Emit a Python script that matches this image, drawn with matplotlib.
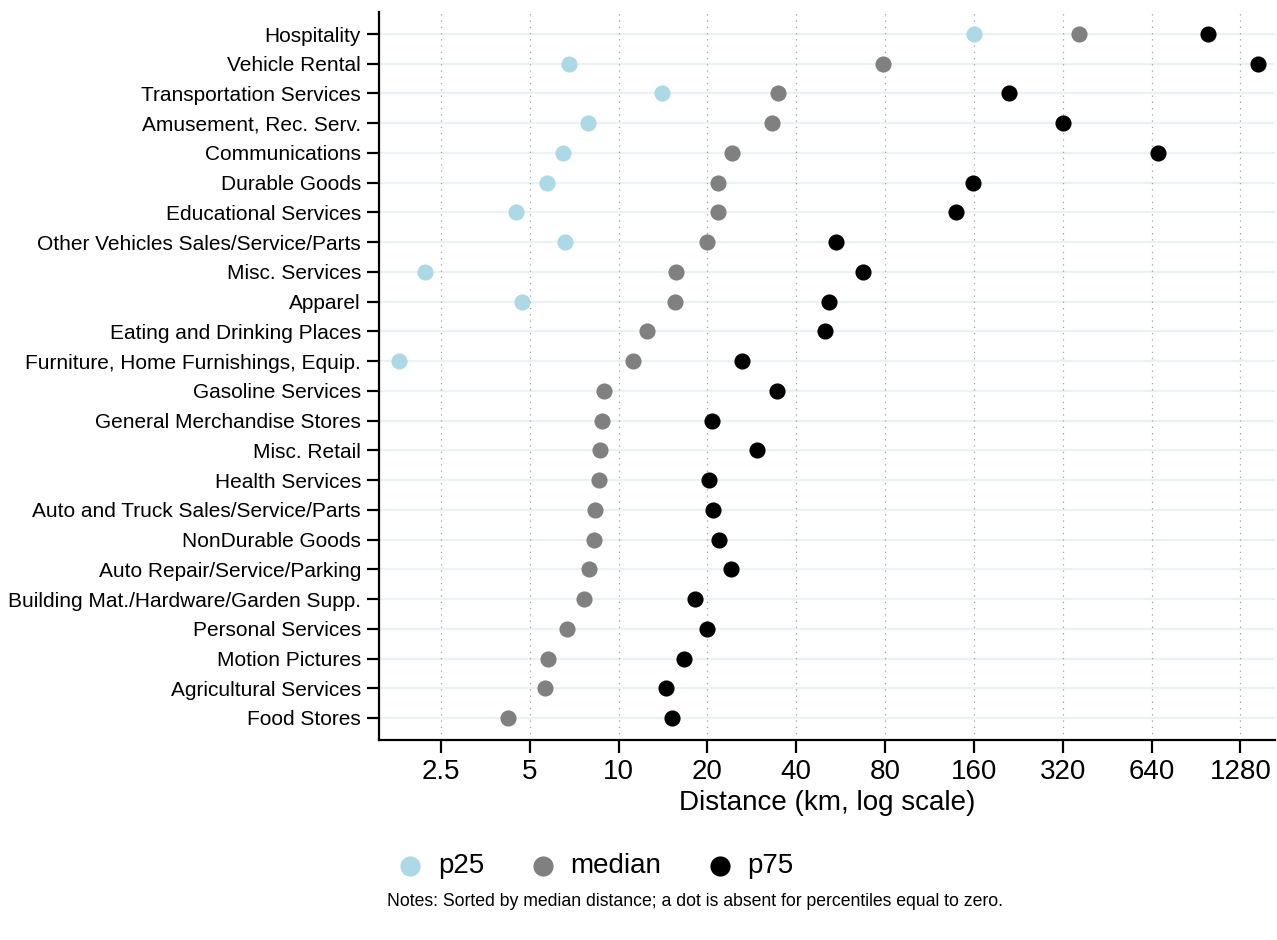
import numpy as np
import matplotlib.pyplot as plt
from matplotlib.ticker import FixedLocator, NullLocator

plt.rcParams['font.family'] = ['Liberation Sans', 'DejaVu Sans']

# industries, top to bottom
industries = [
    "Hospitality", "Vehicle Rental", "Transportation Services",
    "Amusement, Rec. Serv.", "Communications", "Durable Goods",
    "Educational Services", "Other Vehicles Sales/Service/Parts",
    "Misc. Services", "Apparel", "Eating and Drinking Places",
    "Furniture, Home Furnishings, Equip.", "Gasoline Services",
    "General Merchandise Stores", "Misc. Retail", "Health Services",
    "Auto and Truck Sales/Service/Parts", "NonDurable Goods",
    "Auto Repair/Service/Parking", "Building Mat./Hardware/Garden Supp.",
    "Personal Services", "Motion Pictures", "Agricultural Services",
    "Food Stores",
]

# distances in km (nan = percentile equal to zero, no dot)
p25 = [160, 6.8, 14.0, 7.9, 6.5, 5.7, 4.5, 6.6, 2.2, 4.7, np.nan, 1.8,
       np.nan, np.nan, np.nan, np.nan, np.nan, np.nan, np.nan, np.nan,
       np.nan, np.nan, np.nan, np.nan]
median = [363, 79, 34.6, 33.0, 24.2, 21.7, 21.7, 20.0, 15.7, 15.5, 12.5, 11.2,
          8.9, 8.76, 8.62, 8.56, 8.29, 8.23, 7.91, 7.61, 6.66, 5.74, 5.61, 4.2]
p75 = [993, 1467, 210, 320, 672, 159, 139, 54.4, 67.2, 51.5, 49.9, 26.1,
       34.3, 20.7, 29.4, 20.2, 20.8, 21.8, 24.0, 18.1, 19.9, 16.6, 14.5, 15.2]

xticks = [2.5, 5, 10, 20, 40, 80, 160, 320, 640, 1280]
xtick_labels = ["2.5", "5", "10", "20", "40", "80", "160", "320", "640", "1280"]

fig = plt.figure(figsize=(12.77, 9.4), dpi=100)
ax = fig.add_axes([379/1277, 1 - 740/940, (1275 - 379)/1277, (740 - 12)/940])

y = np.arange(len(industries))

# horizontal light lines + vertical dotted grid
for yy in y:
    ax.axhline(yy, color='#eaf2f3', lw=1.6, zorder=0)
for xt in xticks:
    ax.axvline(xt, color='#a0a0a0', lw=0.9, ls=(0, (1, 4)), zorder=0)

s = 135
ax.scatter(p25, y, s=s, color='#add8e6', label='p25', zorder=3, linewidths=0)
ax.scatter(median, y, s=s, color='#808080', label='median', zorder=3, linewidths=0)
ax.scatter(p75, y, s=s, color='black', label='p75', zorder=3, linewidths=0)

ax.set_xscale('log')
ax.set_xlim(1.54, 1678)
ax.set_ylim(len(industries) - 1 + 0.74, -0.74)
ax.xaxis.set_major_locator(FixedLocator(xticks))
ax.xaxis.set_minor_locator(NullLocator())
ax.set_xticklabels(xtick_labels, fontsize=20)
ax.set_yticks(y)
ax.set_yticklabels(industries, fontsize=15)

ax.spines['top'].set_visible(False)
ax.spines['right'].set_visible(False)
ax.spines['left'].set_linewidth(1.6)
ax.spines['bottom'].set_linewidth(1.6)
ax.tick_params(axis='both', length=9, width=1.6, direction='out')
ax.tick_params(axis='x', pad=5)
ax.tick_params(axis='y', pad=4)

ax.set_xlabel('Distance (km, log scale)', fontsize=20, labelpad=3)

fig.legend(loc='center', bbox_to_anchor=(595/1277, 1 - 866/940), ncol=3,
           frameon=False, fontsize=20, handlelength=1.0, handletextpad=0.5,
           columnspacing=1.6, markerscale=1.25, borderpad=0, borderaxespad=0)

fig.text(695/1277, 1 - 902/940,
         'Notes: Sorted by median distance; a dot is absent for percentiles equal to zero.',
         ha='center', va='center', fontsize=12.7)

fig.savefig('out.png', dpi=100)
